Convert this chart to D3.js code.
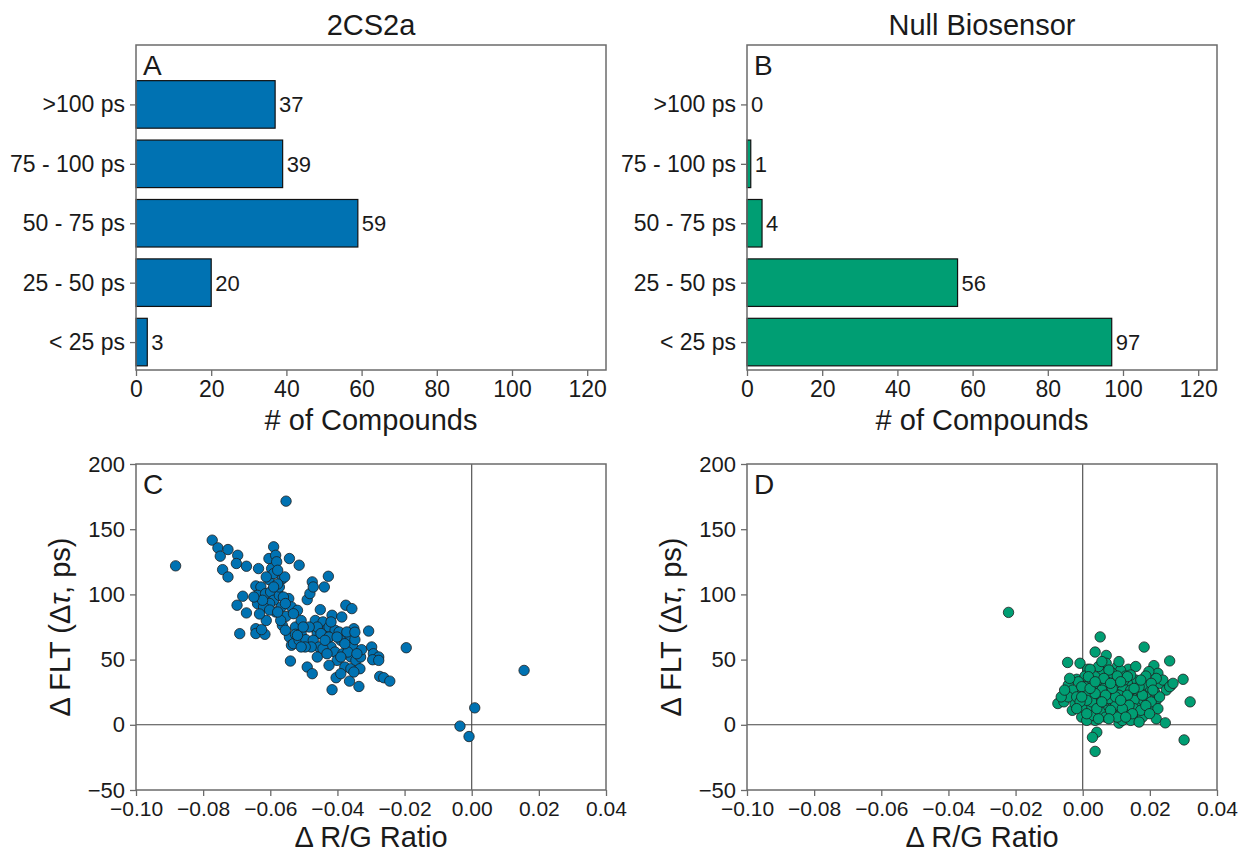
<!DOCTYPE html>
<html>
<head>
<meta charset="utf-8">
<script src="https://cdn.jsdelivr.net/npm/d3@7"></script>
<style>
  body { margin: 0; background: #fff; }
  svg text { font-family: "Liberation Sans", Arial, sans-serif; fill: #1a1a1a; }
</style>
</head>
<body>
<div class="container"></div>
<script>
// bins, bottom to top
const categories = ["< 25 ps", "25 - 50 ps", "50 - 75 ps", "75 - 100 ps", ">100 ps"];
const counts2CS2a = [3, 20, 59, 39, 37];
const countsNull = [97, 56, 4, 1, 0];
const countTicks = [0, 20, 40, 60, 80, 100, 120];
const ratioTicks = [-0.10, -0.08, -0.06, -0.04, -0.02, 0.00, 0.02, 0.04];
const fltTicks = [-50, 0, 50, 100, 150, 200];

// [delta R/G ratio, delta FLT ps]
const scatter2CS2a = [
  [-0.0553, 171.5], [-0.0882, 121.9], [-0.0773, 141.6], [-0.0756, 135.7], [-0.0749, 129.3],
  [-0.0726, 134.4], [-0.0742, 119], [-0.0726, 113.4], [-0.0697, 130], [-0.0701, 123.7],
  [-0.0671, 121.6], [-0.0699, 91.7], [-0.0682, 98.6], [-0.0671, 85.8], [-0.0691, 69.9],
  [-0.0643, 73.7], [-0.0643, 70], [-0.0616, 69.4], [-0.0626, 73], [-0.0643, 106.5],
  [-0.0635, 119.8], [-0.0628, 105.7], [-0.0638, 99.3], [-0.0638, 92.9], [-0.0614, 100.6],
  [-0.0612, 80], [-0.0604, 127.5], [-0.0604, 111.4], [-0.0596, 119.8], [-0.059, 136.5],
  [-0.0584, 130], [-0.0581, 125], [-0.059, 116], [-0.0599, 101.9], [-0.059, 95.5],
  [-0.0584, 86.5], [-0.0602, 93], [-0.0573, 99.3], [-0.0564, 112], [-0.0557, 113.4],
  [-0.0573, 105.7], [-0.0567, 90.4], [-0.0564, 76.3], [-0.0545, 96.8], [-0.0543, 127.5],
  [-0.0537, 90.4], [-0.0543, 67.3], [-0.0537, 61], [-0.0531, 62.2], [-0.054, 48.9],
  [-0.0553, 83.2], [-0.0519, 87.8], [-0.0514, 122.4], [-0.0525, 75], [-0.0525, 69.4],
  [-0.0514, 64.8], [-0.0508, 70], [-0.0494, 65.3], [-0.049, 96], [-0.0482, 100.6],
  [-0.0475, 109.6], [-0.0472, 105.7], [-0.049, 44.3], [-0.0475, 39.2], [-0.0472, 75],
  [-0.0466, 80], [-0.046, 70], [-0.0472, 64.8], [-0.0455, 59.7], [-0.046, 52],
  [-0.0451, 88.3], [-0.0449, 75], [-0.0443, 78.9], [-0.0439, 105.7], [-0.0427, 113.9],
  [-0.0434, 72.5], [-0.0431, 64.8], [-0.0425, 75], [-0.0419, 59.7], [-0.0416, 84],
  [-0.0407, 72.5], [-0.0407, 55.8], [-0.0401, 49.4], [-0.0404, 36.1], [-0.0416, 26.9],
  [-0.0387, 82.7], [-0.0384, 54.5], [-0.0378, 44.3], [-0.0375, 91.7], [-0.0372, 62.2],
  [-0.0366, 67.3], [-0.0364, 33.5], [-0.036, 52], [-0.036, 43], [-0.0357, 89.1],
  [-0.0354, 59.7], [-0.0351, 73.7], [-0.0348, 65.3], [-0.0345, 49.4], [-0.0336, 29.4],
  [-0.0331, 52], [-0.0333, 43], [-0.0328, 57.6], [-0.0307, 71.9], [-0.0298, 59.7],
  [-0.0293, 54.5], [-0.0277, 52], [-0.0274, 37.1], [-0.0262, 36.1], [-0.0244, 33.5],
  [-0.0195, 59.1], [-0.0035, -1], [-0.0008, -9], [0.0009, 13], [0.0156, 41.7],
  [-0.0569, 80], [-0.0555, 72.5], [-0.0578, 108], [-0.062, 90.4], [-0.059, 105.7],
  [-0.0612, 113.4], [-0.0623, 95.5], [-0.0578, 118.5], [-0.0508, 80], [-0.0478, 59.7],
  [-0.0443, 58.4], [-0.0431, 54.5], [-0.0395, 71.2], [-0.039, 64.8], [-0.0369, 55.8],
  [-0.0342, 54.5], [-0.0295, 49.9], [-0.0277, 49.4], [-0.046, 75], [-0.0449, 70],
  [-0.0425, 67.3], [-0.0484, 75], [-0.0496, 59.7], [-0.0531, 85.2], [-0.0561, 98],
  [-0.0602, 88], [-0.0649, 98], [-0.0372, 71.2], [-0.039, 39.2], [-0.0351, 40.5],
  [-0.0555, 93], [-0.0519, 68.6], [-0.0502, 75], [-0.0419, 78.9], [-0.039, 52],
  [-0.0378, 62.2], [-0.0401, 67.3], [-0.0632, 85], [-0.0578, 86.5], [-0.0437, 64.8],
  [-0.0348, 71], [-0.0508, 59.7], [-0.0425, 45.6]
];

const scatterNull = [
  [0.0052, 67.4], [0.0183, 59.6], [0.0037, 55.8], [0.007, 53.2], [-0.0045, 47.8],
  [-0.0008, 47.2], [0.007, 47.2], [0.0259, 49], [0.0212, 45.4], [0.0224, 39.5],
  [0.0197, 40.8], [0.0136, 42.6], [0.0103, 44.7], [0.0113, 41.6], [0.0015, 42.6],
  [0.0057, 39.5], [0.0299, 34.9], [0.0264, 30.5], [0.0229, 31.8], [0.0158, 34.3],
  [0.0199, 27.9], [-0.0018, 34.9], [-0.0043, 30.5], [0.0022, 31.8], [0.0057, 31.8],
  [0.0088, 34.3], [0.0103, 27.9], [0.0133, 31.8], [0.032, 17.6], [-0.0074, 16.3],
  [-0.0056, 17.6], [-0.0031, 11.1], [-0.0003, 5.9], [0.0037, 3.4], [0.0108, 1.3],
  [0.0153, 7.2], [0.0219, 4.6], [0.0246, 1.5], [0.0042, -5.7], [0.0029, -9.6],
  [0.0037, -20.4], [0.0302, -11.6], [-0.0011, 24], [0.0007, 18.8], [0.0027, 22.7],
  [0.0052, 21.4], [0.0078, 25.3], [0.0088, 17.6], [0.0118, 21.4], [0.0148, 22.7],
  [0.0168, 16.3], [0.0188, 21.4], [0.0219, 18.8], [0.0108, 11.1], [0.0133, 9.8],
  [0.0057, 9.8], [0.0022, 12.4], [-0.0003, 13.7], [0.0078, 13.7], [0.0158, 13.7],
  [0.0199, 11.1], [-0.003, 26.6], [0.0007, 29.2], [0.0042, 27.9], [0.0068, 29.2],
  [0.0118, 29.2], [0.0143, 26.6], [0.0173, 25.3], [0.0249, 26.6], [0.0128, 37.4],
  [0.0088, 39.5], [0.0037, 36.9], [0.0007, 37.4], [-0.0013, 33], [0.0078, 42],
  [0.0047, 44.7], [0.0158, 44.7], [0.0108, 22.7], [0.0098, 15], [0.0068, 5.9],
  [0.0118, 3.4], [0.0178, 5.9], [0.0143, 3.4], [0.0012, 3.4], [-0.0023, 16.3],
  [-0.0043, 21.4], [-0.0064, 21.4], [0.0047, 16.3], [0.0068, 18.8], [0.0133, 17.6],
  [0.0153, 18.8], [0.0204, 17.6], [0.0178, 30.5], [0.0214, 25.3], [0.0239, 34.3],
  [0.0032, 7.2], [0.0088, 8.5], [0.0153, 12.4], [0.0057, 26.6], [0.0017, 24],
  [0.0098, 31.8], [0.0123, 34.3], [0.0063, 35.6], [0.0022, 42.6], [0.0188, 37.4],
  [0.0143, 38.2], [-0.0003, 29.2], [-0.0018, 21.4], [0.0027, 17.6], [0.0078, 20.1],
  [0.0098, 21.4], [0.0133, 22.7], [0.0178, 22.7], [0.0224, 12.4], [0.0173, 11.1],
  [0.0103, 5.9], [0.0047, 4.6], [0.0229, 21.4], [0.0259, 29.2], [0.0219, 35.6],
  [0.0103, 37.4], [0.0057, 48.5], [0.0012, 18.8], [0.0138, 15], [0.0168, 29.2],
  [0.0037, 24], [-0.0008, 17.6], [0.0042, 12.4], [0.0118, 12.4], [0.0083, 11.1],
  [0.0168, 2.1], [-0.0054, 26.6], [-0.0039, 35.6], [0.0017, 36.9], [0.0088, 27.9],
  [0.0153, 27.9], [0.0133, 36.9], [0.0113, 33], [0.0204, 31.8], [0.0269, 31.8],
  [0.0188, 14.8], [0.0113, 18.8], [0.0068, 22.7], [0.0022, 27.9], [-0.0003, 21.4],
  [0.0057, 17.6], [0.0148, 8.5], [0.0199, 8.5], [0.0012, 8.5], [-0.0018, 12.4],
  [0.0078, 4.6], [0.0128, 5.9], [0.0209, 26.6], [0.0173, 34.3], [0.0083, 31.8],
  [0.0037, 33], [-0.0221, 86.2], [0.0108, 48.5]
];

const blue = "#0072B2";
const green = "#009E73";

const cols = [[136, 606], [747, 1217]];
const rows = [[45, 370], [464, 790]];

const svg = d3.select(".container")
  .append("svg")
  .attr("width", 1238)
  .attr("height", 852);

const fmtRatio = d3.format(".2f");
const fmtInt = d3.format("d");

// plain box round the plot area
const drawFrame = (g, xr, yr) => {
  g.append("rect")
    .attr("x", xr[0]).attr("y", yr[0])
    .attr("width", xr[1] - xr[0]).attr("height", yr[1] - yr[0])
    .attr("fill", "none").attr("stroke", "#6b6b6b").attr("stroke-width", 1.5);
};

const styleAxis = (size) => (sel) => {
  sel.select(".domain").remove();
  sel.selectAll(".tick line").attr("stroke", "#6b6b6b").attr("stroke-width", 1.3);
  sel.selectAll(".tick text")
    .style("font-size", size)
    .attr("fill", "#1a1a1a");
};

// bar panels
const barPanel = (counts, color, col, title, letter) => {
  const [x0, x1] = cols[col];
  const [y0, y1] = rows[0];
  const g = svg.append("g");

  const x = d3.scaleLinear().domain([0, 125]).range([x0, x1]);
  const y = d3.scaleLinear().domain([-0.47, 5.0]).range([y1, y0]);

  g.selectAll(".bar")
    .data(counts)
    .join("rect")
    .attr("class", "bar")
    .attr("x", x(0))
    .attr("y", (d, i) => y(i + 0.4))
    .attr("width", (d) => x(d) - x(0))
    .attr("height", (d, i) => y(i - 0.4) - y(i + 0.4))
    .attr("fill", color)
    .attr("stroke", (d) => (d > 0 ? "#111" : "none"))
    .attr("stroke-width", 1.2);

  g.selectAll(".val")
    .data(counts)
    .join("text")
    .attr("class", "val")
    .attr("x", (d) => x(d) + 4)
    .attr("y", (d, i) => y(i))
    .attr("dy", "0.36em")
    .style("font-size", "22px")
    .attr("fill", "#222")
    .text((d) => d);

  drawFrame(g, [x0, x1], [y0, y1]);

  g.append("g")
    .attr("transform", `translate(0,${y1})`)
    .call(d3.axisBottom(x).tickValues(countTicks).tickFormat(fmtInt).tickSize(6).tickPadding(5))
    .call(styleAxis("23px"));

  g.append("g")
    .attr("transform", `translate(${x0},0)`)
    .call(d3.axisLeft(y).tickValues(d3.range(categories.length))
      .tickFormat((i) => categories[i]).tickSize(6).tickPadding(5))
    .call(styleAxis("23px"));

  g.append("text")
    .attr("x", (x0 + x1) / 2).attr("y", 35)
    .attr("text-anchor", "middle")
    .style("font-size", "29px")
    .text(title);

  g.append("text")
    .attr("x", (x0 + x1) / 2).attr("y", y1 + 60)
    .attr("text-anchor", "middle")
    .style("font-size", "29px")
    .text("# of Compounds");

  g.append("text")
    .attr("x", x0 + 7).attr("y", y0 + 30)
    .style("font-size", "28px")
    .text(letter);
};

// scatter panels
const scatterPanel = (points, color, col, letter) => {
  const [x0, x1] = cols[col];
  const [y0, y1] = rows[1];
  const g = svg.append("g");

  const x = d3.scaleLinear().domain([-0.10, 0.04]).range([x0, x1]);
  const y = d3.scaleLinear().domain([-50, 200]).range([y1, y0]);

  g.append("line")
    .attr("x1", x0).attr("x2", x1).attr("y1", y(0)).attr("y2", y(0))
    .attr("stroke", "#444").attr("stroke-width", 1.1);
  g.append("line")
    .attr("x1", x(0)).attr("x2", x(0)).attr("y1", y0).attr("y2", y1)
    .attr("stroke", "#444").attr("stroke-width", 1.1);

  g.selectAll(".dot")
    .data(points)
    .join("circle")
    .attr("class", "dot")
    .attr("cx", (d) => x(d[0]))
    .attr("cy", (d) => y(d[1]))
    .attr("r", 5.2)
    .attr("fill", color)
    .attr("stroke", "#1e1e1e")
    .attr("stroke-width", 0.8);

  drawFrame(g, [x0, x1], [y0, y1]);

  g.append("g")
    .attr("transform", `translate(0,${y1})`)
    .call(d3.axisBottom(x).tickValues(ratioTicks).tickFormat(fmtRatio).tickSize(6).tickPadding(5))
    .call(styleAxis("21px"));

  g.append("g")
    .attr("transform", `translate(${x0},0)`)
    .call(d3.axisLeft(y).tickValues(fltTicks).tickFormat(fmtInt).tickSize(6).tickPadding(5))
    .call(styleAxis("22px"));

  g.append("text")
    .attr("x", (x0 + x1) / 2).attr("y", y1 + 57)
    .attr("text-anchor", "middle")
    .style("font-size", "29px")
    .text("\u0394 R/G Ratio");

  const yl = g.append("text")
    .attr("transform", `translate(${x0 - 66},${(y0 + y1) / 2}) rotate(-90)`)
    .attr("text-anchor", "middle")
    .style("font-size", "29px");
  yl.append("tspan").text("\u0394 FLT (\u0394");
  yl.append("tspan").attr("font-style", "italic").text("\u03c4");
  yl.append("tspan").text(", ps)");

  g.append("text")
    .attr("x", x0 + 7).attr("y", y0 + 30)
    .style("font-size", "28px")
    .text(letter);
};

barPanel(counts2CS2a, blue, 0, "2CS2a", "A");
barPanel(countsNull, green, 1, "Null Biosensor", "B");
scatterPanel(scatter2CS2a, blue, 0, "C");
scatterPanel(scatterNull, green, 1, "D");
</script>
</body>
</html>
